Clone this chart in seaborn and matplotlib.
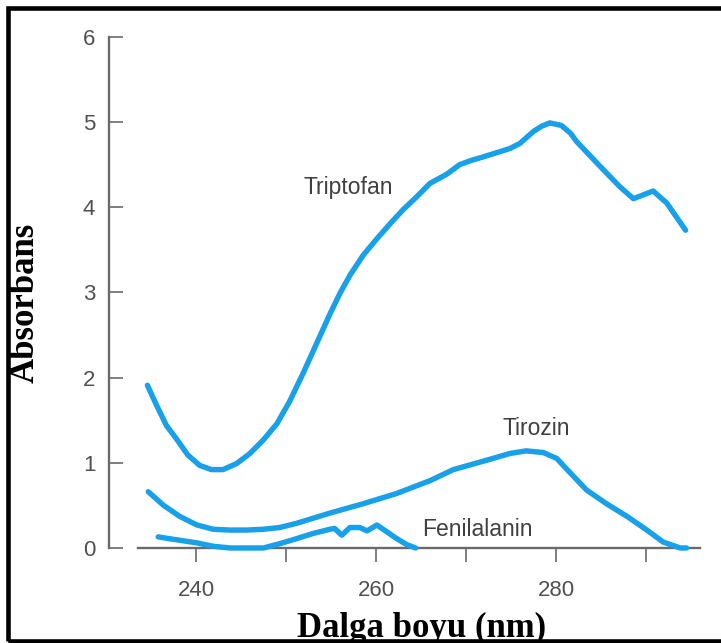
import matplotlib
matplotlib.use("Agg")
import matplotlib.pyplot as plt
from matplotlib.patches import Rectangle
from matplotlib.ticker import FixedLocator
import pandas as pd
import seaborn as sns

# Absorption spectra of aromatic amino acids (wavelength in nm, absorbance)
trp_x = [234.6, 235.6, 236.7, 237.9, 239.1, 240.4, 241.7, 243.0, 244.5, 246.0,
         247.5, 249.0, 250.4, 251.9, 253.4, 254.9, 256.0, 257.1, 258.6, 260.1,
         261.6, 263.0, 264.5, 266.0, 267.9, 269.3, 270.6, 271.9, 273.4, 274.9,
         276.0, 277.5, 278.4, 279.3, 280.6, 281.6, 282.3, 284.9, 287.1, 288.6,
         290.8, 292.3, 294.4]
trp_y = [1.91, 1.68, 1.44, 1.27, 1.09, 0.97, 0.92, 0.92, 0.99, 1.11,
         1.27, 1.46, 1.72, 2.05, 2.40, 2.75, 2.99, 3.20, 3.44, 3.63,
         3.81, 3.97, 4.12, 4.28, 4.39, 4.50, 4.55, 4.59, 4.64, 4.69,
         4.75, 4.89, 4.95, 4.99, 4.96, 4.87, 4.77, 4.48, 4.24, 4.10,
         4.19, 4.05, 3.73]

tyr_x = [234.7, 236.4, 238.2, 240.1, 241.9, 243.8, 245.6, 247.5, 249.3, 251.2,
         254.9, 258.6, 262.3, 266.0, 268.6, 272.3, 274.9, 276.7, 278.6, 280.1,
         280.8, 281.6, 282.5, 283.4, 285.6, 287.9, 290.1, 291.9, 293.8, 294.5]
tyr_y = [0.66, 0.50, 0.37, 0.27, 0.22, 0.21, 0.21, 0.22, 0.24, 0.29,
         0.41, 0.52, 0.64, 0.79, 0.92, 1.03, 1.11, 1.14, 1.12, 1.05,
         0.97, 0.88, 0.78, 0.68, 0.52, 0.37, 0.21, 0.07, 0.00, 0.00]

phe_x = [235.8, 238.2, 240.1, 241.9, 243.8, 245.6, 247.5, 249.3, 251.2, 253.0,
         254.9, 255.4, 256.2, 257.1, 258.2, 259.0, 260.1, 261.2, 262.3, 263.4,
         264.4]
phe_y = [0.13, 0.09, 0.06, 0.02, 0.00, 0.00, 0.00, 0.05, 0.11, 0.17,
         0.22, 0.23, 0.15, 0.24, 0.24, 0.20, 0.27, 0.19, 0.11, 0.04,
         0.00]

series_names = ["Triptofan", "Tirozin", "Fenilalanin"]
label_pos = {"Triptofan": (256.9, 4.23), "Tirozin": (277.8, 1.40),
             "Fenilalanin": (271.3, 0.22)}

x_major = [240, 260, 280]
x_minor = [250, 270, 290]
y_ticks = [0, 1, 2, 3, 4, 5, 6]

df = pd.concat([
    pd.DataFrame({"nm": trp_x, "abs": trp_y, "series": "Triptofan"}),
    pd.DataFrame({"nm": tyr_x, "abs": tyr_y, "series": "Tirozin"}),
    pd.DataFrame({"nm": phe_x, "abs": phe_y, "series": "Fenilalanin"}),
], ignore_index=True)

sns.set_style("white")
plt.rcParams["font.family"] = ["Liberation Sans", "DejaVu Sans"]

BLUE = "#18a0e8"
AXIS = "#6a6a6a"

fig = plt.figure(figsize=(7.21, 6.43), dpi=100)
ax = fig.add_axes([0.1505, 0.1213, 0.8412, 0.8479])

sns.lineplot(data=df, x="nm", y="abs", units="series", estimator=None,
             sort=False, color=BLUE, lw=3.9, legend=False, ax=ax,
             zorder=3, solid_joinstyle="round", solid_capstyle="round")

ax.set_xlim(230.28, 297.67)
ax.set_ylim(-0.2, 6.2)

for s in ["top", "right"]:
    ax.spines[s].set_visible(False)
ax.spines["left"].set_bounds(0, 6)
ax.spines["bottom"].set_position(("data", 0))
ax.spines["bottom"].set_bounds(233.56, 296.0)
for s in ["left", "bottom"]:
    ax.spines[s].set_color(AXIS)
    ax.spines[s].set_linewidth(1.7)

ax.xaxis.set_major_locator(FixedLocator(x_major))
ax.xaxis.set_minor_locator(FixedLocator(x_minor))
ax.set_yticks(y_ticks)
ax.set_xticklabels([str(v) for v in x_major])
ax.set_yticklabels([str(v) for v in y_ticks])

ax.tick_params(axis="x", which="both", direction="out", length=10,
               width=1.2, color=AXIS, pad=13, labelsize=16,
               labelcolor="#505050", bottom=True)
ax.tick_params(axis="y", direction="in", length=10, width=1.2,
               color=AXIS, pad=9.5, labelsize=16, labelcolor="#505050",
               left=True)

ax.set_xlabel("")
ax.set_ylabel("")

for name in series_names:
    tx, ty = label_pos[name]
    ax.text(tx, ty, name, ha="center", va="center", fontsize=16.5,
            color="#404040")

# Axis titles in bold serif
fig.text(0.585, 0.0093, "Dalga boyu (nm)", ha="center", va="baseline",
         fontsize=25, fontweight="bold", family="Liberation Serif",
         color="black", zorder=2)
fig.text(0.0347, 0.5296, "Absorbans", rotation=90, ha="center",
         va="center", fontsize=25, fontweight="bold",
         family="Liberation Serif", color="black")

# Black frame around the figure
fig.add_artist(Rectangle((8 / 721, 2.5 / 643), 1.05, (643 - 10.5) / 643,
                         transform=fig.transFigure, fill=False,
                         edgecolor="black", linewidth=3.3, zorder=10,
                         clip_on=False))

fig.savefig("out.png", dpi=100)
